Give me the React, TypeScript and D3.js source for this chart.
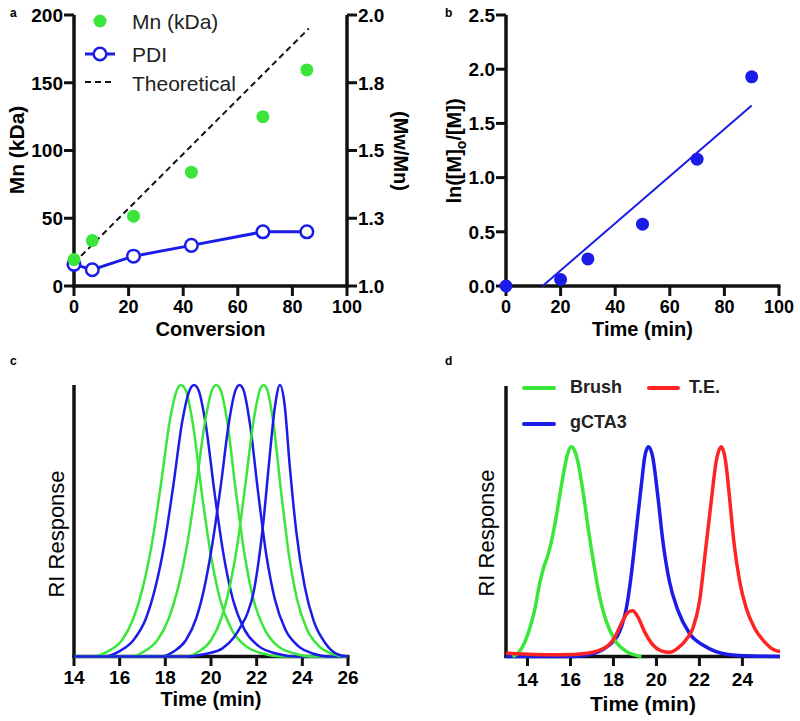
import React from 'react';
import * as d3 from 'd3';

// ---------- Panel a data ----------
const conversion = [0, 6.7, 21.8, 43, 69.2, 85.3];
const mnKDa = [19.5, 33.5, 51.5, 84, 125, 159.5];
const pdi = [1.08, 1.06, 1.11, 1.15, 1.2, 1.2];
const theoreticalX = [0, 86];
const theoreticalY = [17, 190];
const mnTicks = [0, 50, 100, 150, 200];
const pdiTicks = [1, 1.25, 1.5, 1.75, 2];
const pdiTickLabels = ['1.0', '1.3', '1.5', '1.8', '2.0'];
const convTicks = [0, 20, 40, 60, 80, 100];

// ---------- Panel b data ----------
const kinTime = [0, 20, 30, 50, 70, 90];
const kinLn = [0, 0.06, 0.25, 0.57, 1.17, 1.93];
const fitX = [13.4, 90];
const fitY = [0, 1.665];
const lnTicks = [0, 0.5, 1, 1.5, 2, 2.5];
const timeBTicks = [0, 20, 40, 60, 80, 100];

// ---------- Panel c data (time, RI) ----------
const cGreen1: [number, number][] = [[14, 0], [14.8, 0], [15.5, 0.02], [16.1, 0.06], [16.6, 0.14], [17.0, 0.25], [17.4, 0.41], [17.8, 0.63], [18.2, 0.87], [18.5, 0.98], [18.68, 1], [18.9, 0.98], [19.2, 0.86], [19.6, 0.6], [20.0, 0.37], [20.4, 0.21], [20.9, 0.1], [21.5, 0.04], [22.3, 0.01], [23.1, 0], [26, 0]];
const cBlue2: [number, number][] = [[14, 0], [15.3, 0], [16.0, 0.02], [16.6, 0.06], [17.15, 0.14], [17.55, 0.25], [17.95, 0.41], [18.35, 0.63], [18.75, 0.87], [19.06, 0.98], [19.26, 1], [19.46, 0.98], [19.76, 0.86], [20.16, 0.6], [20.56, 0.37], [20.96, 0.21], [21.46, 0.1], [22.06, 0.04], [22.9, 0.01], [23.7, 0], [26, 0]];
const cGreen3: [number, number][] = [[14, 0], [16.5, 0], [17.1, 0.02], [17.65, 0.06], [18.15, 0.14], [18.55, 0.25], [18.95, 0.41], [19.35, 0.63], [19.75, 0.87], [20.04, 0.98], [20.23, 1], [20.43, 0.98], [20.72, 0.86], [21.1, 0.6], [21.48, 0.37], [21.86, 0.21], [22.35, 0.1], [22.9, 0.04], [23.7, 0.01], [24.4, 0], [26, 0]];
const cBlue4: [number, number][] = [[14, 0], [17.8, 0], [18.4, 0.02], [18.9, 0.06], [19.35, 0.14], [19.7, 0.25], [20.05, 0.41], [20.43, 0.63], [20.8, 0.87], [21.07, 0.98], [21.25, 1], [21.43, 0.98], [21.7, 0.86], [22.07, 0.6], [22.43, 0.37], [22.8, 0.21], [23.25, 0.1], [23.8, 0.04], [24.5, 0.01], [25.1, 0], [26, 0]];
const cGreen5: [number, number][] = [[14, 0], [18.9, 0], [19.5, 0.02], [20.0, 0.06], [20.45, 0.14], [20.8, 0.25], [21.15, 0.41], [21.5, 0.63], [21.87, 0.87], [22.13, 0.98], [22.3, 1], [22.47, 0.98], [22.73, 0.86], [23.08, 0.6], [23.42, 0.37], [23.77, 0.21], [24.2, 0.1], [24.7, 0.04], [25.3, 0.01], [25.9, 0], [26, 0]];
const cBlue6: [number, number][] = [[14, 0], [18.9, 0], [19.8, 0.01], [20.5, 0.03], [21.0, 0.07], [21.3, 0.11], [21.6, 0.16], [21.85, 0.23], [22.05, 0.33], [22.3, 0.5], [22.55, 0.72], [22.8, 0.92], [23.02, 1], [23.22, 0.93], [23.45, 0.7], [23.75, 0.45], [24.1, 0.26], [24.5, 0.13], [25.0, 0.05], [25.5, 0.01], [26, 0]];
const timeCTicks = [14, 16, 18, 20, 22, 24, 26];

// ---------- Panel d data (time, RI) ----------
const dBrush: [number, number][] = [[13.3, 0], [13.6, 0.02], [13.88, 0.07], [14.12, 0.14], [14.35, 0.23], [14.55, 0.34], [14.74, 0.42], [14.97, 0.49], [15.18, 0.58], [15.36, 0.68], [15.52, 0.78], [15.67, 0.87], [15.85, 0.96], [16.03, 1], [16.2, 0.98], [16.34, 0.93], [16.5, 0.84], [16.65, 0.74], [16.8, 0.63], [16.96, 0.52], [17.12, 0.42], [17.27, 0.33], [17.46, 0.24], [17.66, 0.17], [18.05, 0.08], [18.67, 0.02], [19.3, 0]];
const dGCTA3: [number, number][] = [[13, 0], [16.2, 0], [17.13, 0.016], [17.75, 0.05], [18.2, 0.1], [18.4, 0.15], [18.6, 0.23], [18.83, 0.39], [19.06, 0.6], [19.3, 0.82], [19.47, 0.96], [19.63, 1], [19.83, 0.95], [20.07, 0.76], [20.3, 0.55], [20.6, 0.36], [21.0, 0.22], [21.54, 0.11], [22.24, 0.05], [23.33, 0.01], [24.5, 0.002], [25.75, 0]];
const dTE: [number, number][] = [[13, 0.016], [14.3, 0.01], [15.56, 0.008], [16.8, 0.016], [17.58, 0.04], [18.05, 0.09], [18.43, 0.17], [18.67, 0.21], [18.9, 0.218], [19.13, 0.19], [19.44, 0.12], [19.83, 0.056], [20.22, 0.027], [20.6, 0.02], [21.0, 0.04], [21.38, 0.08], [21.7, 0.135], [22.0, 0.26], [22.3, 0.52], [22.55, 0.74], [22.78, 0.93], [23.02, 1], [23.22, 0.93], [23.4, 0.76], [23.6, 0.55], [23.87, 0.36], [24.18, 0.23], [24.57, 0.135], [25.03, 0.07], [25.5, 0.03], [25.75, 0.024]];
const timeDTicks = [14, 16, 18, 20, 22, 24];

const FONT = "'Liberation Sans', Arial, Helvetica, sans-serif";
const GREEN = '#3ae63a';
const BLUE = '#1c1ce8';
const RED = '#ff2424';
const AX = '#111';
const AXW = 3.5;
const TICKFS = 19;

const xA = d3.scaleLinear().domain([0, 100]).range([74, 347]);
const yA = d3.scaleLinear().domain([0, 200]).range([286, 15]);
const yA2 = d3.scaleLinear().domain([1, 2]).range([286, 15]);

const xB = d3.scaleLinear().domain([0, 100]).range([506, 779]);
const yB = d3.scaleLinear().domain([0, 2.5]).range([286, 15]);

const xC = d3.scaleLinear().domain([14, 26]).range([74, 348]);
const yC = d3.scaleLinear().domain([0, 1]).range([656.5, 385]);

const xD = d3.scaleLinear().domain([13, 25.75]).range([506, 780]);
const yD = d3.scaleLinear().domain([0, 1.29]).range([656.5, 386]);

function curvePath(data: [number, number][], xs: any, ys: any) {
  return d3.line<[number, number]>().x(d => xs(d[0])).y(d => ys(d[1])).curve(d3.curveMonotoneX)(data) || '';
}

export default function App() {
  const fmt1 = d3.format('.1f');
  const pdiLine = d3.line<number>().x((_, i) => xA(conversion[i])).y(d => yA2(d));
  return (
    <svg width={800} height={721} style={{ position: 'absolute', left: 0, top: 0, background: '#fff' }} fontFamily={FONT}>
      <rect x={0} y={0} width={800} height={721} fill="#fff" />

      {/* ================= Panel a ================= */}
      <text x={10} y={17} fontSize={12} fontWeight="bold">a</text>
      <line x1={xA(theoreticalX[0])} y1={yA(theoreticalY[0])} x2={xA(theoreticalX[1])} y2={yA(theoreticalY[1])} stroke="#111" strokeWidth={2} strokeDasharray="6,4" />
      <line x1={74} y1={yA(200)} x2={74} y2={287.5} stroke={AX} strokeWidth={AXW} />
      <line x1={347} y1={yA2(2)} x2={347} y2={287.5} stroke={AX} strokeWidth={AXW} />
      <line x1={72.5} y1={286} x2={348.5} y2={286} stroke={AX} strokeWidth={AXW} />
      {mnTicks.map(t => (
        <g key={'ma' + t}>
          <line x1={64} y1={yA(t)} x2={74} y2={yA(t)} stroke={AX} strokeWidth={3} />
          <text x={63} y={yA(t)} dy="0.36em" textAnchor="end" fontSize={TICKFS} fontWeight="bold">{t}</text>
        </g>
      ))}
      {pdiTicks.map((t, i) => (
        <g key={'pa' + t}>
          <line x1={347} y1={yA2(t)} x2={357} y2={yA2(t)} stroke={AX} strokeWidth={3} />
          <text x={358} y={yA2(t)} dy="0.36em" textAnchor="start" fontSize={TICKFS} fontWeight="bold">{pdiTickLabels[i]}</text>
        </g>
      ))}
      {convTicks.map(t => (
        <g key={'ca' + t}>
          <line x1={xA(t)} y1={286} x2={xA(t)} y2={296} stroke={AX} strokeWidth={3} />
          <text x={xA(t)} y={313} textAnchor="middle" fontSize={18} fontWeight="bold">{t}</text>
        </g>
      ))}
      <text x={210.5} y={336} textAnchor="middle" fontSize={20} fontWeight="bold">Conversion</text>
      <text transform="translate(24,150) rotate(-90)" textAnchor="middle" fontSize={21} fontWeight="bold">Mn (kDa)</text>
      <text transform="translate(394,151) rotate(90)" textAnchor="middle" fontSize={20} fontWeight="bold">(Mw/Mn)</text>
      <path d={pdiLine(pdi) || ''} fill="none" stroke={BLUE} strokeWidth={3} />
      {pdi.map((p, i) => (
        <circle key={'pdi' + i} cx={xA(conversion[i])} cy={yA2(p)} r={6.3} fill="#fff" stroke={BLUE} strokeWidth={2.5} />
      ))}
      {mnKDa.map((m, i) => (
        <circle key={'mn' + i} cx={xA(conversion[i])} cy={yA(m)} r={6.5} fill={GREEN} />
      ))}
      {/* legend */}
      <circle cx={100} cy={21} r={6.5} fill={GREEN} />
      <text x={132} y={29} fontSize={21} fill="#222">Mn (kDa)</text>
      <line x1={85} y1={54} x2={115} y2={54} stroke={BLUE} strokeWidth={3} />
      <circle cx={100} cy={54} r={6.3} fill="#fff" stroke={BLUE} strokeWidth={2.5} />
      <text x={132} y={62} fontSize={21} fill="#222">PDI</text>
      <line x1={85} y1={82} x2={115} y2={82} stroke="#111" strokeWidth={2} strokeDasharray="6,4" />
      <text x={132} y={91} fontSize={21} fill="#222">Theoretical</text>

      {/* ================= Panel b ================= */}
      <text x={445} y={17} fontSize={12} fontWeight="bold">b</text>
      <line x1={506} y1={yB(2.5)} x2={506} y2={287.5} stroke={AX} strokeWidth={AXW} />
      <line x1={504.5} y1={286} x2={780.5} y2={286} stroke={AX} strokeWidth={AXW} />
      {lnTicks.map(t => (
        <g key={'lb' + t}>
          <line x1={496} y1={yB(t)} x2={506} y2={yB(t)} stroke={AX} strokeWidth={3} />
          <text x={495} y={yB(t)} dy="0.36em" textAnchor="end" fontSize={TICKFS} fontWeight="bold">{fmt1(t)}</text>
        </g>
      ))}
      {timeBTicks.map(t => (
        <g key={'tb' + t}>
          <line x1={xB(t)} y1={286} x2={xB(t)} y2={296} stroke={AX} strokeWidth={3} />
          <text x={xB(t)} y={313} textAnchor="middle" fontSize={18} fontWeight="bold">{t}</text>
        </g>
      ))}
      <text x={642.5} y={336} textAnchor="middle" fontSize={20} fontWeight="bold">Time (min)</text>
      <text transform="translate(461,151) rotate(-90)" textAnchor="middle" fontSize={20} fontWeight="bold">
        ln([M]<tspan dy={5} fontSize={14}>o</tspan><tspan dy={-5}>/[M])</tspan>
      </text>
      <line x1={xB(fitX[0])} y1={yB(fitY[0])} x2={xB(fitX[1])} y2={yB(fitY[1])} stroke={BLUE} strokeWidth={2} />
      {kinLn.map((v, i) => (
        <circle key={'kb' + i} cx={xB(kinTime[i])} cy={yB(v)} r={6.5} fill={BLUE} />
      ))}

      {/* ================= Panel c ================= */}
      <text x={10} y={365} fontSize={12} fontWeight="bold">c</text>
      <line x1={74} y1={385} x2={74} y2={658} stroke={AX} strokeWidth={AXW} />
      <line x1={72.5} y1={656.5} x2={349.5} y2={656.5} stroke={AX} strokeWidth={AXW} />
      {timeCTicks.map(t => (
        <g key={'tc' + t}>
          <line x1={xC(t)} y1={656.5} x2={xC(t)} y2={666} stroke={AX} strokeWidth={3} />
          <text x={xC(t)} y={684} textAnchor="middle" fontSize={TICKFS} fontWeight="bold">{t}</text>
        </g>
      ))}
      <text x={211} y={706} textAnchor="middle" fontSize={20} fontWeight="bold">Time (min)</text>
      <text transform="translate(64,534) rotate(-90)" textAnchor="middle" fontSize={22}>RI Response</text>
      {[cGreen1, cBlue2, cGreen3, cBlue4, cGreen5, cBlue6].map((c, i) => (
        <path key={'pc' + i} d={curvePath(c, xC, yC)} fill="none" stroke={i % 2 === 0 ? GREEN : BLUE} strokeWidth={2.5} />
      ))}

      {/* ================= Panel d ================= */}
      <text x={445} y={365} fontSize={12} fontWeight="bold">d</text>
      <line x1={506} y1={386} x2={506} y2={658} stroke={AX} strokeWidth={AXW} />
      <line x1={504.5} y1={656.5} x2={780} y2={656.5} stroke={AX} strokeWidth={AXW} />
      {timeDTicks.map(t => (
        <g key={'td' + t}>
          <line x1={xD(t)} y1={656.5} x2={xD(t)} y2={666} stroke={AX} strokeWidth={3} />
          <text x={xD(t)} y={686} textAnchor="middle" fontSize={TICKFS} fontWeight="bold">{t}</text>
        </g>
      ))}
      <text x={643} y={711} textAnchor="middle" fontSize={21} fontWeight="bold">Time (min)</text>
      <text transform="translate(494,533) rotate(-90)" textAnchor="middle" fontSize={22}>RI Response</text>
      <path d={curvePath(dGCTA3, xD, yD)} fill="none" stroke={BLUE} strokeWidth={3.5} />
      <path d={curvePath(dBrush, xD, yD)} fill="none" stroke={GREEN} strokeWidth={3.5} />
      <path d={curvePath(dTE, xD, yD)} fill="none" stroke={RED} strokeWidth={3.5} />
      {/* legend */}
      <line x1={524} y1={388} x2={554} y2={388} stroke={GREEN} strokeWidth={4} strokeLinecap="round" />
      <text x={570} y={393} fontSize={18} fontWeight="bold" fill="#222">Brush</text>
      <line x1={649} y1={388} x2={678} y2={388} stroke={RED} strokeWidth={4} strokeLinecap="round" />
      <text x={689} y={393} fontSize={18} fontWeight="bold" fill="#222">T.E.</text>
      <line x1={524} y1={424} x2={554} y2={424} stroke={BLUE} strokeWidth={4} strokeLinecap="round" />
      <text x={570} y={428} fontSize={18} fontWeight="bold" fill="#222">gCTA3</text>
    </svg>
  );
}
